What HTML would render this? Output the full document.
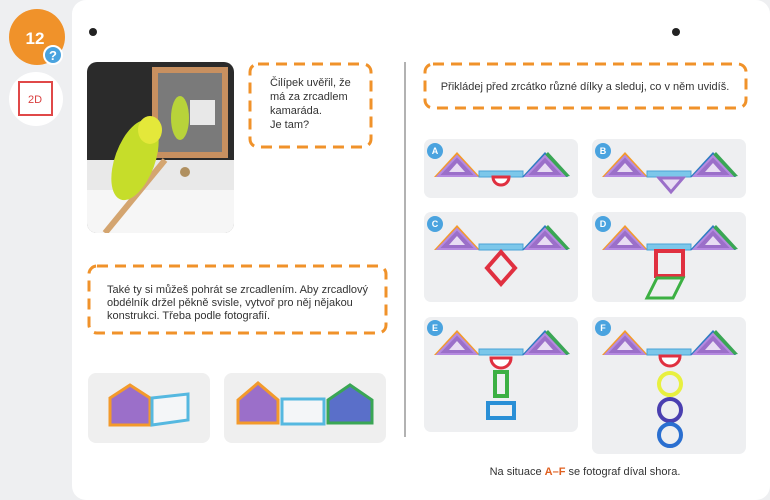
<!DOCTYPE html>
<html><head><meta charset="utf-8"><style>
body{margin:0;background:#fff}
svg{display:block}
text{font-family:"Liberation Sans",sans-serif}
</style></head><body>
<svg width="770" height="500" viewBox="0 0 770 500" xmlns="http://www.w3.org/2000/svg">
<defs>
<g id="w">
<polygon points="10,38 33,13 56,38" fill="#f39a2b"/>
<polygon points="14,37 33,17 52,37" fill="#9b6fc9" stroke="#b58ae0" stroke-width="2"/>
<polygon points="25,33 33,24 41,33" fill="#e8ddf3"/>
<rect x="55" y="32" width="44" height="6" fill="#7cc7ea" stroke="#4aa3d6"/>
<polygon points="98,38 121,13 144,38" fill="#2d7cc1"/>
<polygon points="140,38 121,16 124,13 146,37" fill="#3aa655"/>
<polygon points="102,37 121,17 140,37" fill="#9b6fc9" stroke="#b58ae0" stroke-width="2"/>
<polygon points="113,33 121,24 129,33" fill="#e8ddf3"/>
</g>
</defs>
<rect width="770" height="500" fill="#eeeff1"/>
<rect x="72" y="0" width="698" height="500" rx="14" fill="#fff"/>
<circle cx="37" cy="37" r="28" fill="#f0922a"/>
<text x="35" y="44" font-size="17" font-weight="bold" fill="#fff" text-anchor="middle">12</text>
<circle cx="53" cy="55" r="9" fill="#4aa3df" stroke="#fff" stroke-width="2"/>
<text x="53" y="60" font-size="13" font-weight="bold" fill="#fff" text-anchor="middle">?</text>
<circle cx="36" cy="99" r="27" fill="#fff"/>
<rect x="19" y="82" width="33" height="33" fill="none" stroke="#e04848" stroke-width="2"/>
<text x="35" y="103" font-size="11" fill="#d94040" text-anchor="middle">2D</text>
<circle cx="93" cy="32" r="4" fill="#222"/>
<circle cx="676" cy="32" r="4" fill="#222"/>
<line x1="405" y1="62" x2="405" y2="437" stroke="#999" stroke-width="1.5"/>
<!-- parrot photo -->
<clipPath id="pc"><rect x="87" y="62" width="147" height="171" rx="10"/></clipPath>
<g clip-path="url(#pc)">
<rect x="87" y="62" width="147" height="171" fill="#2b2b2b"/>
<rect x="87" y="160" width="147" height="73" fill="#e9e9e9"/>
<rect x="87" y="190" width="147" height="43" fill="#f6f6f6"/>
<rect x="155" y="70" width="70" height="85" fill="none" stroke="#c89060" stroke-width="6"/>
<rect x="158" y="73" width="64" height="79" fill="#7a7a7a"/>
<ellipse cx="180" cy="118" rx="9" ry="22" fill="#b8d33a"/>
<rect x="190" y="100" width="25" height="25" fill="#e8e8e8"/>
<line x1="105" y1="233" x2="165" y2="160" stroke="#d4a570" stroke-width="6"/>
<ellipse cx="135" cy="160" rx="20" ry="42" fill="#c6dd2a" transform="rotate(20 135 160)"/>
<ellipse cx="150" cy="130" rx="12" ry="14" fill="#e4e83a"/>
<circle cx="185" cy="172" r="5" fill="#b09060"/>
</g>
<!-- dashed boxes -->
<rect x="250" y="64" width="121" height="83" rx="8" fill="none" stroke="#f0922a" stroke-width="3" stroke-dasharray="11 7"/>
<text font-size="11" fill="#333"><tspan x="270" y="86">Čilípek uvěřil, že</tspan><tspan x="270" y="100">má za zrcadlem</tspan><tspan x="270" y="114">kamaráda.</tspan><tspan x="270" y="128">Je tam?</tspan></text>
<rect x="89" y="266" width="297" height="67" rx="8" fill="none" stroke="#f0922a" stroke-width="3" stroke-dasharray="11 7"/>
<text font-size="11" fill="#333"><tspan x="107" y="293">Také ty si můžeš pohrát se zrcadlením. Aby zrcadlový</tspan><tspan x="107" y="306">obdélník držel pěkně svisle, vytvoř pro něj nějakou</tspan><tspan x="107" y="319">konstrukci. Třeba podle fotografií.</tspan></text>
<rect x="425" y="64" width="321" height="44" rx="8" fill="none" stroke="#f0922a" stroke-width="3" stroke-dasharray="11 7"/>
<text x="585" y="90" font-size="11" fill="#333" text-anchor="middle">Přikládej před zrcátko různé dílky a sleduj, co v něm uvidíš.</text>
<!-- bottom left photos -->
<rect x="88" y="373" width="122" height="70" rx="8" fill="#efefef"/>
<polygon points="110,398 130,385 150,398 150,425 110,425" fill="#9b6fc9" stroke="#f39a2b" stroke-width="3"/>
<polygon points="152,398 188,394 188,420 152,425" fill="#f4f6f8" stroke="#55b8e0" stroke-width="3"/>
<rect x="224" y="373" width="162" height="70" rx="8" fill="#efefef"/>
<polygon points="238,400 258,383 278,400 278,423 238,423" fill="#9b6fc9" stroke="#f39a2b" stroke-width="3"/>
<rect x="282" y="399" width="42" height="25" fill="#f4f6f8" stroke="#55b8e0" stroke-width="3"/>
<polygon points="328,400 350,385 372,400 372,423 328,423" fill="#5a6fc9" stroke="#3aa655" stroke-width="3"/>
<!-- tiles -->
<g fill="#eeeff1">
<rect x="424" y="139" width="154" height="59" rx="7"/>
<rect x="592" y="139" width="154" height="59" rx="7"/>
<rect x="424" y="212" width="154" height="90" rx="7"/>
<rect x="592" y="212" width="154" height="90" rx="7"/>
<rect x="424" y="317" width="154" height="115" rx="7"/>
<rect x="592" y="317" width="154" height="137" rx="7"/>
</g>
<use href="#w" x="424" y="139"/>
<path d="M493,177 a8,8 0 0 0 16,0 z" fill="#fff" stroke="#e03040" stroke-width="3"/>
<use href="#w" x="592" y="139"/>
<polygon points="659,178 683,178 671,192" fill="#e8ddf3" stroke="#9b6fc9" stroke-width="3"/>
<use href="#w" x="424" y="212"/>
<polygon points="501,252 515,268 501,284 487,268" fill="none" stroke="#e03040" stroke-width="4"/>
<use href="#w" x="592" y="212"/>
<rect x="656" y="251" width="27" height="25" fill="none" stroke="#e03040" stroke-width="4"/>
<polygon points="657,278 683,278 673,298 647,298" fill="none" stroke="#3cb043" stroke-width="3"/>
<use href="#w" x="424" y="317"/>
<path d="M491,358 a10,10 0 0 0 20,0 z" fill="#fff" stroke="#e03040" stroke-width="3"/>
<rect x="495" y="372" width="12" height="24" fill="none" stroke="#3cb043" stroke-width="4"/>
<rect x="488" y="403" width="26" height="15" fill="none" stroke="#2a8fd6" stroke-width="4"/>
<use href="#w" x="592" y="317"/>
<path d="M660,356 a10,10 0 0 0 20,0 z" fill="#fff" stroke="#e03040" stroke-width="3"/>
<circle cx="670" cy="384" r="11" fill="none" stroke="#e8f040" stroke-width="4"/>
<circle cx="670" cy="410" r="11" fill="none" stroke="#4a3fb0" stroke-width="4"/>
<circle cx="670" cy="435" r="11" fill="none" stroke="#2a6fd0" stroke-width="4"/>
<g fill="#4aa3df"><circle cx="435" cy="151" r="8"/><circle cx="603" cy="151" r="8"/><circle cx="435" cy="224" r="8"/><circle cx="603" cy="224" r="8"/><circle cx="435" cy="328" r="8"/><circle cx="603" cy="328" r="8"/></g>
<g font-size="9" font-weight="bold" fill="#fff" text-anchor="middle"><text x="435" y="154">A</text><text x="603" y="154">B</text><text x="435" y="227">C</text><text x="603" y="227">D</text><text x="435" y="331">E</text><text x="603" y="331">F</text></g>
<text x="585" y="475" font-size="11" fill="#333" text-anchor="middle">Na situace <tspan fill="#e06020" font-weight="bold">A–F</tspan> se fotograf díval shora.</text>
</svg>
</body></html>
